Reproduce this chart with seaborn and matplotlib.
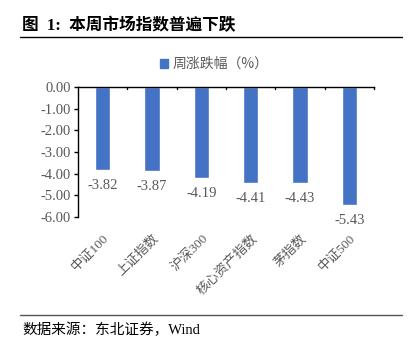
import numpy as np
import pandas as pd
import seaborn as sns
import matplotlib.pyplot as plt
from matplotlib.patches import Patch

categories = ["中证100", "上证指数", "沪深300", "核心资产指数", "茅指数", "中证500"]
weekly_change = [-3.82, -3.87, -4.19, -4.41, -4.43, -5.43]
y_ticks = [0.0, -1.0, -2.0, -3.0, -4.0, -5.0, -6.0]

sns.set_style("white")
plt.rcParams['font.family'] = ['Noto Sans CJK SC', 'DejaVu Sans']

df = pd.DataFrame({"name": categories, "value": weekly_change})
bar_color = "#4472C4"
gray = "#595959"
serif = ["Liberation Serif", "Noto Sans CJK SC"]

fig = plt.figure(figsize=(4.09, 3.56), dpi=100)
ax = fig.add_axes([78 / 409, 1 - 217 / 356, (374 - 78) / 409, (217 - 87) / 356])

sns.barplot(data=df, x="name", y="value", color=bar_color, width=0.31, ax=ax,
            saturation=1)

ax.set_ylim(-6, 0)
ax.set_xlim(-0.5, len(categories) - 0.5)
ax.set_yticks(y_ticks)
ax.set_yticklabels([f"{v:.2f}" for v in y_ticks], family=serif, color=gray, fontsize=10.5)
ax.set_xticks(range(len(categories)))
ax.set_xticklabels(categories, rotation=45, ha="right", rotation_mode="anchor",
                   color=gray, fontsize=9.5, family=serif)
ax.tick_params(axis="x", length=0, pad=11)
ax.tick_params(axis="y", length=3, width=1, color="black", left=True, pad=2)
ax.set_xlabel("")
ax.set_ylabel("")

# boundary tick marks on the zero line
for b in np.arange(0.5, len(categories), 1.0):
    ax.plot([b, b], [0, -0.1], color="black", lw=1, clip_on=False)

for s in ["right", "bottom"]:
    ax.spines[s].set_visible(False)
for s in ["left", "top"]:
    ax.spines[s].set_color("black")
    ax.spines[s].set_linewidth(1)

for i, v in enumerate(weekly_change):
    ax.text(i, v - 0.72, f"{v:.2f}", ha="center", va="center", family=serif,
            color=gray, fontsize=10.5)

ax.legend(handles=[Patch(color=bar_color, label="周涨跌幅（%）")],
          loc="center", bbox_to_anchor=(214 / 409, 1 - 64 / 356),
          bbox_transform=fig.transFigure, frameon=False, fontsize=10,
          handlelength=0.6, handleheight=0.6, handletextpad=0.3,
          labelcolor=gray)

fig.text(22 / 409, 1 - 26 / 356, "图  1:  本周市场指数普遍下跌", fontsize=12,
         fontweight="bold", va="center", ha="left", color="black", family=serif)
fig.add_artist(plt.Line2D([20 / 409, 402 / 409], [1 - 37 / 356, 1 - 37 / 356],
                          color="black", lw=1))
fig.add_artist(plt.Line2D([20 / 409, 402 / 409], [1 - 315 / 356, 1 - 315 / 356],
                          color="#555555", lw=1))
fig.text(22 / 409, 1 - 330 / 356, "数据来源：东北证券，Wind", fontsize=10.5,
         va="center", ha="left", color="black", family=serif)

fig.savefig("out.png", dpi=100)
